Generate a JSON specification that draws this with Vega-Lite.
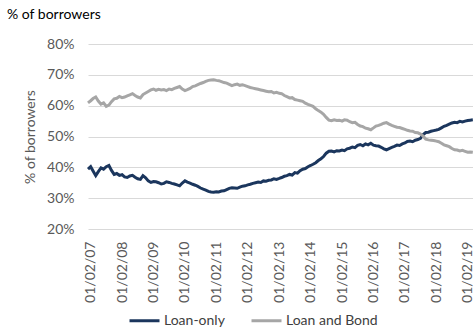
{
"$schema": "https://vega.github.io/schema/vega-lite/v6.json",
"width": 385, "height": 185,
"autosize": "none",
"padding": {"left": 88, "top": 44, "right": 0, "bottom": 98},
"background": "white",
"config": {"view": {"stroke": null}, "font": "Lato"},
"title": {"text": "% of borrowers", "anchor": "start", "frame": "group", "dx": -81, "dy": 19, "offset": 23, "baseline": "alphabetic", "fontSize": 14, "fontWeight": "normal", "color": "#000000", "font": "Lato"},
"data": {"values": [
{"d":"2007-01-01","Loan-only":39.4,"Loan and Bond":60.9},
{"d":"2007-02-01","Loan-only":40.2,"Loan and Bond":61.6},
{"d":"2007-03-01","Loan-only":38.8,"Loan and Bond":62.3},
{"d":"2007-04-01","Loan-only":37.3,"Loan and Bond":62.8},
{"d":"2007-05-01","Loan-only":38.6,"Loan and Bond":61.5},
{"d":"2007-06-01","Loan-only":39.8,"Loan and Bond":60.5},
{"d":"2007-07-01","Loan-only":39.4,"Loan and Bond":60.9},
{"d":"2007-08-01","Loan-only":40.2,"Loan and Bond":59.8},
{"d":"2007-09-01","Loan-only":40.6,"Loan and Bond":60.2},
{"d":"2007-10-01","Loan-only":39.0,"Loan and Bond":61.3},
{"d":"2007-11-01","Loan-only":37.7,"Loan and Bond":62.2},
{"d":"2007-12-01","Loan-only":38.0,"Loan and Bond":62.4},
{"d":"2008-01-01","Loan-only":37.4,"Loan and Bond":63.0},
{"d":"2008-02-01","Loan-only":37.6,"Loan and Bond":62.6},
{"d":"2008-03-01","Loan-only":36.9,"Loan and Bond":62.8},
{"d":"2008-04-01","Loan-only":36.7,"Loan and Bond":63.2},
{"d":"2008-05-01","Loan-only":37.2,"Loan and Bond":63.5},
{"d":"2008-06-01","Loan-only":37.4,"Loan and Bond":63.9},
{"d":"2008-07-01","Loan-only":36.8,"Loan and Bond":63.3},
{"d":"2008-08-01","Loan-only":36.3,"Loan and Bond":62.8},
{"d":"2008-09-01","Loan-only":36.1,"Loan and Bond":62.5},
{"d":"2008-10-01","Loan-only":37.3,"Loan and Bond":63.6},
{"d":"2008-11-01","Loan-only":36.6,"Loan and Bond":64.1},
{"d":"2008-12-01","Loan-only":35.6,"Loan and Bond":64.6},
{"d":"2009-01-01","Loan-only":35.1,"Loan and Bond":65.1},
{"d":"2009-02-01","Loan-only":35.4,"Loan and Bond":65.4},
{"d":"2009-03-01","Loan-only":35.3,"Loan and Bond":65.0},
{"d":"2009-04-01","Loan-only":35.0,"Loan and Bond":65.3},
{"d":"2009-05-01","Loan-only":34.6,"Loan and Bond":65.1},
{"d":"2009-06-01","Loan-only":34.8,"Loan and Bond":65.2},
{"d":"2009-07-01","Loan-only":35.3,"Loan and Bond":64.9},
{"d":"2009-08-01","Loan-only":35.1,"Loan and Bond":65.4},
{"d":"2009-09-01","Loan-only":34.8,"Loan and Bond":65.2},
{"d":"2009-10-01","Loan-only":34.6,"Loan and Bond":65.6},
{"d":"2009-11-01","Loan-only":34.3,"Loan and Bond":65.9},
{"d":"2009-12-01","Loan-only":34.0,"Loan and Bond":66.2},
{"d":"2010-01-01","Loan-only":34.9,"Loan and Bond":65.4},
{"d":"2010-02-01","Loan-only":35.6,"Loan and Bond":64.9},
{"d":"2010-03-01","Loan-only":35.2,"Loan and Bond":65.2},
{"d":"2010-04-01","Loan-only":34.9,"Loan and Bond":65.6},
{"d":"2010-05-01","Loan-only":34.5,"Loan and Bond":66.2},
{"d":"2010-06-01","Loan-only":34.2,"Loan and Bond":66.4},
{"d":"2010-07-01","Loan-only":33.8,"Loan and Bond":66.8},
{"d":"2010-08-01","Loan-only":33.3,"Loan and Bond":67.2},
{"d":"2010-09-01","Loan-only":32.9,"Loan and Bond":67.5},
{"d":"2010-10-01","Loan-only":32.6,"Loan and Bond":67.9},
{"d":"2010-11-01","Loan-only":32.2,"Loan and Bond":68.2},
{"d":"2010-12-01","Loan-only":32.0,"Loan and Bond":68.3},
{"d":"2011-01-01","Loan-only":31.9,"Loan and Bond":68.4},
{"d":"2011-02-01","Loan-only":32.1,"Loan and Bond":68.2},
{"d":"2011-03-01","Loan-only":32.0,"Loan and Bond":68.1},
{"d":"2011-04-01","Loan-only":32.3,"Loan and Bond":67.8},
{"d":"2011-05-01","Loan-only":32.4,"Loan and Bond":67.5},
{"d":"2011-06-01","Loan-only":32.8,"Loan and Bond":67.3},
{"d":"2011-07-01","Loan-only":33.2,"Loan and Bond":66.9},
{"d":"2011-08-01","Loan-only":33.4,"Loan and Bond":66.5},
{"d":"2011-09-01","Loan-only":33.3,"Loan and Bond":66.8},
{"d":"2011-10-01","Loan-only":33.2,"Loan and Bond":67.0},
{"d":"2011-11-01","Loan-only":33.6,"Loan and Bond":66.6},
{"d":"2011-12-01","Loan-only":33.9,"Loan and Bond":66.8},
{"d":"2012-01-01","Loan-only":34.0,"Loan and Bond":66.5},
{"d":"2012-02-01","Loan-only":34.3,"Loan and Bond":66.2},
{"d":"2012-03-01","Loan-only":34.5,"Loan and Bond":65.9},
{"d":"2012-04-01","Loan-only":34.8,"Loan and Bond":65.7},
{"d":"2012-05-01","Loan-only":35.0,"Loan and Bond":65.5},
{"d":"2012-06-01","Loan-only":35.2,"Loan and Bond":65.3},
{"d":"2012-07-01","Loan-only":35.1,"Loan and Bond":65.1},
{"d":"2012-08-01","Loan-only":35.6,"Loan and Bond":64.9},
{"d":"2012-09-01","Loan-only":35.5,"Loan and Bond":64.7},
{"d":"2012-10-01","Loan-only":35.8,"Loan and Bond":64.5},
{"d":"2012-11-01","Loan-only":35.9,"Loan and Bond":64.6},
{"d":"2012-12-01","Loan-only":36.3,"Loan and Bond":64.1},
{"d":"2013-01-01","Loan-only":36.1,"Loan and Bond":64.3},
{"d":"2013-02-01","Loan-only":36.4,"Loan and Bond":64.0},
{"d":"2013-03-01","Loan-only":36.7,"Loan and Bond":63.9},
{"d":"2013-04-01","Loan-only":37.1,"Loan and Bond":63.3},
{"d":"2013-05-01","Loan-only":37.3,"Loan and Bond":62.9},
{"d":"2013-06-01","Loan-only":37.7,"Loan and Bond":62.5},
{"d":"2013-07-01","Loan-only":37.5,"Loan and Bond":62.6},
{"d":"2013-08-01","Loan-only":38.3,"Loan and Bond":62.0},
{"d":"2013-09-01","Loan-only":38.1,"Loan and Bond":61.8},
{"d":"2013-10-01","Loan-only":38.9,"Loan and Bond":61.6},
{"d":"2013-11-01","Loan-only":39.4,"Loan and Bond":61.4},
{"d":"2013-12-01","Loan-only":39.6,"Loan and Bond":60.8},
{"d":"2014-01-01","Loan-only":40.2,"Loan and Bond":60.4},
{"d":"2014-02-01","Loan-only":40.6,"Loan and Bond":60.1},
{"d":"2014-03-01","Loan-only":41.0,"Loan and Bond":59.8},
{"d":"2014-04-01","Loan-only":41.5,"Loan and Bond":59.0},
{"d":"2014-05-01","Loan-only":42.2,"Loan and Bond":58.4},
{"d":"2014-06-01","Loan-only":42.8,"Loan and Bond":57.9},
{"d":"2014-07-01","Loan-only":43.5,"Loan and Bond":57.2},
{"d":"2014-08-01","Loan-only":44.6,"Loan and Bond":56.2},
{"d":"2014-09-01","Loan-only":45.2,"Loan and Bond":55.3},
{"d":"2014-10-01","Loan-only":45.3,"Loan and Bond":55.1},
{"d":"2014-11-01","Loan-only":45.0,"Loan and Bond":55.4},
{"d":"2014-12-01","Loan-only":45.4,"Loan and Bond":55.2},
{"d":"2015-01-01","Loan-only":45.3,"Loan and Bond":55.3},
{"d":"2015-02-01","Loan-only":45.6,"Loan and Bond":55.0},
{"d":"2015-03-01","Loan-only":45.4,"Loan and Bond":55.4},
{"d":"2015-04-01","Loan-only":46.0,"Loan and Bond":55.3},
{"d":"2015-05-01","Loan-only":46.2,"Loan and Bond":54.8},
{"d":"2015-06-01","Loan-only":46.6,"Loan and Bond":54.5},
{"d":"2015-07-01","Loan-only":46.4,"Loan and Bond":54.6},
{"d":"2015-08-01","Loan-only":47.1,"Loan and Bond":53.9},
{"d":"2015-09-01","Loan-only":47.4,"Loan and Bond":53.4},
{"d":"2015-10-01","Loan-only":47.0,"Loan and Bond":53.2},
{"d":"2015-11-01","Loan-only":47.6,"Loan and Bond":52.7},
{"d":"2015-12-01","Loan-only":47.3,"Loan and Bond":52.5},
{"d":"2016-01-01","Loan-only":47.8,"Loan and Bond":52.2},
{"d":"2016-02-01","Loan-only":47.2,"Loan and Bond":52.8},
{"d":"2016-03-01","Loan-only":47.0,"Loan and Bond":53.4},
{"d":"2016-04-01","Loan-only":46.9,"Loan and Bond":53.6},
{"d":"2016-05-01","Loan-only":46.5,"Loan and Bond":53.9},
{"d":"2016-06-01","Loan-only":46.0,"Loan and Bond":54.3},
{"d":"2016-07-01","Loan-only":45.7,"Loan and Bond":54.5},
{"d":"2016-08-01","Loan-only":46.1,"Loan and Bond":54.0},
{"d":"2016-09-01","Loan-only":46.5,"Loan and Bond":53.6},
{"d":"2016-10-01","Loan-only":46.8,"Loan and Bond":53.3},
{"d":"2016-11-01","Loan-only":47.2,"Loan and Bond":53.0},
{"d":"2016-12-01","Loan-only":47.1,"Loan and Bond":52.9},
{"d":"2017-01-01","Loan-only":47.6,"Loan and Bond":52.6},
{"d":"2017-02-01","Loan-only":47.9,"Loan and Bond":52.3},
{"d":"2017-03-01","Loan-only":48.4,"Loan and Bond":52.0},
{"d":"2017-04-01","Loan-only":48.5,"Loan and Bond":51.8},
{"d":"2017-05-01","Loan-only":48.3,"Loan and Bond":51.7},
{"d":"2017-06-01","Loan-only":48.8,"Loan and Bond":51.3},
{"d":"2017-07-01","Loan-only":49.0,"Loan and Bond":51.2},
{"d":"2017-08-01","Loan-only":49.4,"Loan and Bond":50.8},
{"d":"2017-09-01","Loan-only":50.6,"Loan and Bond":50.1},
{"d":"2017-10-01","Loan-only":51.3,"Loan and Bond":49.1},
{"d":"2017-11-01","Loan-only":51.4,"Loan and Bond":48.9},
{"d":"2017-12-01","Loan-only":51.7,"Loan and Bond":48.8},
{"d":"2018-01-01","Loan-only":51.9,"Loan and Bond":48.7},
{"d":"2018-02-01","Loan-only":52.1,"Loan and Bond":48.5},
{"d":"2018-03-01","Loan-only":52.3,"Loan and Bond":48.3},
{"d":"2018-04-01","Loan-only":52.8,"Loan and Bond":47.8},
{"d":"2018-05-01","Loan-only":53.3,"Loan and Bond":47.3},
{"d":"2018-06-01","Loan-only":53.6,"Loan and Bond":47.0},
{"d":"2018-07-01","Loan-only":54.0,"Loan and Bond":46.7},
{"d":"2018-08-01","Loan-only":54.4,"Loan and Bond":46.1},
{"d":"2018-09-01","Loan-only":54.6,"Loan and Bond":45.7},
{"d":"2018-10-01","Loan-only":54.5,"Loan and Bond":45.6},
{"d":"2018-11-01","Loan-only":54.9,"Loan and Bond":45.3},
{"d":"2018-12-01","Loan-only":54.7,"Loan and Bond":45.5},
{"d":"2019-01-01","Loan-only":55.0,"Loan and Bond":45.2},
{"d":"2019-02-01","Loan-only":55.2,"Loan and Bond":44.9},
{"d":"2019-03-01","Loan-only":55.3,"Loan and Bond":45.0},
{"d":"2019-04-01","Loan-only":55.4,"Loan and Bond":44.9}
]},
"transform": [{"fold": ["Loan-only", "Loan and Bond"], "as": ["series", "value"]}],
"mark": {"type": "line", "strokeWidth": 3},
"encoding": {
  "x": {"field": "d", "type": "temporal",
    "scale": {"domain": [{"year": 2007, "month": 1, "date": 1}, {"year": 2019, "month": 4, "date": 3}]},
    "axis": {"title": null, "format": "%d/%m/%y", "labelAngle": -90, "labelAlign": "right", "labelBaseline": "middle", "labelPadding": 12, "labelFontSize": 14, "labelColor": "#595959", "labelFlush": false, "labelOverlap": false, "ticks": false, "domain": false, "grid": false,
      "values": [{"year":2007,"month":2,"date":1},{"year":2008,"month":2,"date":1},{"year":2009,"month":2,"date":1},{"year":2010,"month":2,"date":1},{"year":2011,"month":2,"date":1},{"year":2012,"month":2,"date":1},{"year":2013,"month":2,"date":1},{"year":2014,"month":2,"date":1},{"year":2015,"month":2,"date":1},{"year":2016,"month":2,"date":1},{"year":2017,"month":2,"date":1},{"year":2018,"month":2,"date":1},{"year":2019,"month":2,"date":1}]}},
  "y": {"field": "value", "type": "quantitative",
    "scale": {"domain": [20, 80]},
    "axis": {"title": "% of borrowers", "titleFontSize": 14, "titleFontWeight": "normal", "titleColor": "#595959", "titlePadding": 9, "values": [20, 30, 40, 50, 60, 70, 80], "labelExpr": "datum.value + '%'", "labelFontSize": 14, "labelColor": "#595959", "labelPadding": 14, "ticks": false, "domain": false, "gridColor": "#d9d9d9", "gridWidth": 1}},
  "color": {"field": "series", "type": "nominal",
    "scale": {"domain": ["Loan-only", "Loan and Bond"], "range": ["#1B365D", "#A6A6A6"]},
    "legend": {"orient": "none", "legendX": 40, "legendY": 260, "direction": "horizontal", "title": null, "symbolType": "stroke", "symbolSize": 900, "symbolStrokeWidth": 3, "labelFontSize": 14, "labelColor": "#404040", "columnPadding": 20, "labelOffset": 3, "padding": 0}}
}
}
